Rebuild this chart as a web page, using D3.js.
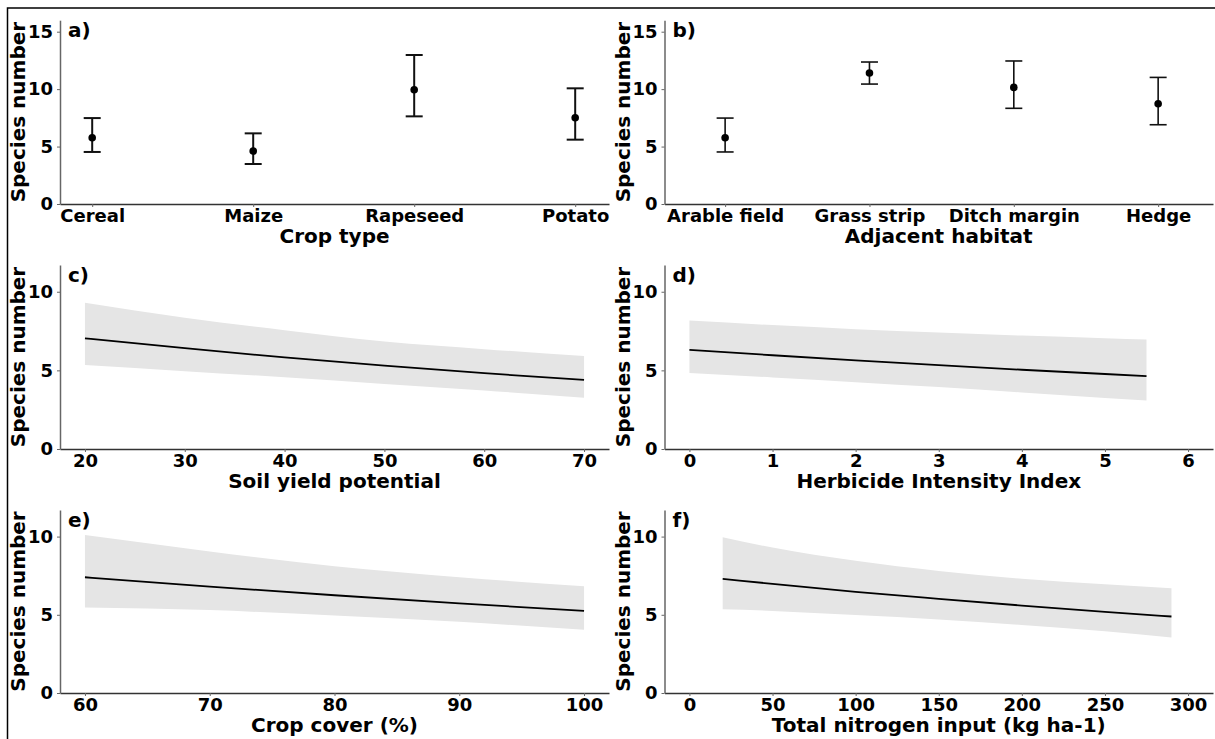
<!DOCTYPE html>
<html>
<head>
<meta charset="utf-8">
<script src="https://cdn.jsdelivr.net/npm/d3@7"></script>
<style>
  body { margin: 0; background: #fff; }
  svg { display: block; font-family: "DejaVu Sans", Verdana, sans-serif; font-weight: bold; }
</style>
</head>
<body>
<div id="chart"></div>
<script>
// a) crop type
const cropTypes = ["Cereal", "Maize", "Rapeseed", "Potato"];
const cropMean = [5.77, 4.61, 9.95, 7.51];
const cropLow = [4.53, 3.48, 7.63, 5.6];
const cropHigh = [7.48, 6.15, 12.97, 10.07];

// b) adjacent habitat
const habitats = ["Arable field", "Grass strip", "Ditch margin", "Hedge"];
const habitatMean = [5.77, 11.4, 10.15, 8.73];
const habitatLow = [4.53, 10.44, 8.33, 6.9];
const habitatHigh = [7.48, 12.36, 12.45, 11.02];

// c) soil yield potential
const soilX = [20, 30, 40, 50, 60, 70];
const soilFit = [7.04, 6.41, 5.82, 5.3, 4.82, 4.39];
const soilLow = [5.34, 4.95, 4.56, 4.14, 3.72, 3.26];
const soilHigh = [9.3, 8.35, 7.55, 6.83, 6.35, 5.91];

// d) herbicide intensity
const herbX = [0, 1, 2, 3, 4, 5, 5.5];
const herbFit = [6.3, 5.96, 5.64, 5.33, 5.04, 4.77, 4.63];
const herbLow = [4.84, 4.55, 4.25, 3.94, 3.6, 3.25, 3.08];
const herbHigh = [8.17, 7.88, 7.62, 7.4, 7.21, 7.05, 6.96];

// e) crop cover
const coverX = [60, 70, 80, 90, 100];
const coverFit = [7.4, 6.8, 6.25, 5.73, 5.25];
const coverLow = [5.46, 5.3, 4.95, 4.55, 4.04];
const coverHigh = [10.1, 9.05, 8.1, 7.4, 6.83];

// f) nitrogen input
const nitroX = [20, 50, 100, 150, 200, 250, 290];
const nitroFit = [7.29, 6.98, 6.47, 6.02, 5.59, 5.19, 4.89];
const nitroLow = [5.35, 5.25, 4.98, 4.7, 4.35, 3.95, 3.55];
const nitroHigh = [9.96, 9.3, 8.45, 7.8, 7.3, 6.95, 6.7];

const yTitle = "Species number";

const width = 1215;
const height = 739;

const svg = d3.select("#chart").append("svg")
  .attr("width", width)
  .attr("height", height);

// outer frame (cut at right and bottom in the original)
svg.append("rect")
  .attr("x", 7.5).attr("y", 8)
  .attr("width", 1240).attr("height", 760)
  .attr("fill", "none")
  .attr("stroke", "#000")
  .attr("stroke-width", 1.5);

const cols = [[60, 609], [664.5, 1213]];
const rows = [[20.2, 204, 16], [265, 449, 11.7], [510, 693, 11.7]];

function frame(col, row, xDomain, xTicks, xFormat, yTicks, letter, xTitle) {
  const [x0, x1] = cols[col];
  const [y0, y1, yMax] = rows[row];
  const x = d3.scaleLinear().domain(xDomain).range([x0, x1]);
  const y = d3.scaleLinear().domain([0, yMax]).range([y1, y0]);
  const g = svg.append("g");

  const xa = g.append("g")
    .attr("transform", `translate(0,${y1})`)
    .call(d3.axisBottom(x).tickValues(xTicks).tickFormat(xFormat).tickSize(3).tickPadding(2.5).tickSizeOuter(0));
  xa.select(".domain").attr("stroke", "#333").attr("stroke-width", 1.5);
  xa.selectAll(".tick line").attr("stroke", "#666");
  xa.selectAll("text").attr("font-size", 18).attr("font-family", "DejaVu Sans").attr("font-weight", "bold").attr("fill", "#000");

  const ya = g.append("g")
    .attr("transform", `translate(${x0},0)`)
    .call(d3.axisLeft(y).tickValues(yTicks).tickSize(3).tickPadding(4).tickSizeOuter(0));
  ya.select(".domain").attr("stroke", "#666").attr("stroke-width", 1.5);
  ya.selectAll(".tick line").attr("stroke", "#666");
  ya.selectAll("text").attr("font-size", 18).attr("font-family", "DejaVu Sans").attr("font-weight", "bold").attr("fill", "#000");

  g.append("text")
    .attr("x", (x0 + x1) / 2)
    .attr("y", y1 + 38.5)
    .attr("text-anchor", "middle")
    .attr("font-size", 20)
    .text(xTitle);

  g.append("text")
    .attr("transform", `translate(${x0 - 35},${(y0 + y1) / 2}) rotate(-90)`)
    .attr("text-anchor", "middle")
    .attr("font-size", 20)
    .text(yTitle);

  g.append("text")
    .attr("x", x0 + 8)
    .attr("y", y0 + 17)
    .attr("font-size", 20)
    .text(letter);

  return { g, x, y };
}

function pointPanel(col, cats, mean, low, high, xDomain, letter, xTitle, barWidth) {
  const { g, x, y } = frame(col, 0, xDomain, d3.range(cats.length), i => cats[i], [0, 5, 10, 15], letter, xTitle);
  const data = cats.map((c, i) => ({ i, m: mean[i], lo: low[i], hi: high[i] }));
  const cap = 8.5;
  const bars = g.selectAll(".bar").data(data).enter().append("g")
    .attr("stroke", "#111").attr("stroke-width", barWidth);
  bars.append("line")
    .attr("x1", d => x(d.i)).attr("x2", d => x(d.i))
    .attr("y1", d => y(d.lo)).attr("y2", d => y(d.hi));
  bars.append("line")
    .attr("x1", d => x(d.i) - cap).attr("x2", d => x(d.i) + cap)
    .attr("y1", d => y(d.hi)).attr("y2", d => y(d.hi));
  bars.append("line")
    .attr("x1", d => x(d.i) - cap).attr("x2", d => x(d.i) + cap)
    .attr("y1", d => y(d.lo)).attr("y2", d => y(d.lo));
  g.selectAll(".dot").data(data).enter().append("circle")
    .attr("cx", d => x(d.i)).attr("cy", d => y(d.m))
    .attr("r", 3.8).attr("fill", "#000");
}

function curvePanel(col, row, xs, fit, low, high, xDomain, xTicks, letter, xTitle) {
  const { g, x, y } = frame(col, row, xDomain, xTicks, d3.format("d"), [0, 5, 10], letter, xTitle);
  const data = xs.map((v, i) => ({ v, f: fit[i], lo: low[i], hi: high[i] }));
  g.insert("path", ":first-child")
    .datum(data)
    .attr("fill", "#e5e5e5")
    .attr("d", d3.area().x(d => x(d.v)).y0(d => y(d.lo)).y1(d => y(d.hi)).curve(d3.curveMonotoneX));
  g.append("path")
    .datum(data)
    .attr("fill", "none")
    .attr("stroke", "#000")
    .attr("stroke-width", 1.8)
    .attr("d", d3.line().x(d => x(d.v)).y(d => y(d.f)).curve(d3.curveMonotoneX));
}

pointPanel(0, cropTypes, cropMean, cropLow, cropHigh, [-0.2, 3.21], "a)", "Crop type", 2);
pointPanel(1, habitats, habitatMean, habitatLow, habitatHigh, [-0.42, 3.38], "b)", "Adjacent habitat", 1.6);
curvePanel(0, 1, soilX, soilFit, soilLow, soilHigh, [17.5, 72.5], [20, 30, 40, 50, 60, 70], "c)", "Soil yield potential");
curvePanel(1, 1, herbX, herbFit, herbLow, herbHigh, [-0.3, 6.3], [0, 1, 2, 3, 4, 5, 6], "d)", "Herbicide Intensity Index");
curvePanel(0, 2, coverX, coverFit, coverLow, coverHigh, [58, 102], [60, 70, 80, 90, 100], "e)", "Crop cover (%)");
curvePanel(1, 2, nitroX, nitroFit, nitroLow, nitroHigh, [-15, 315], [0, 50, 100, 150, 200, 250, 300], "f)", "Total nitrogen input (kg ha-1)");
</script>
</body>
</html>
